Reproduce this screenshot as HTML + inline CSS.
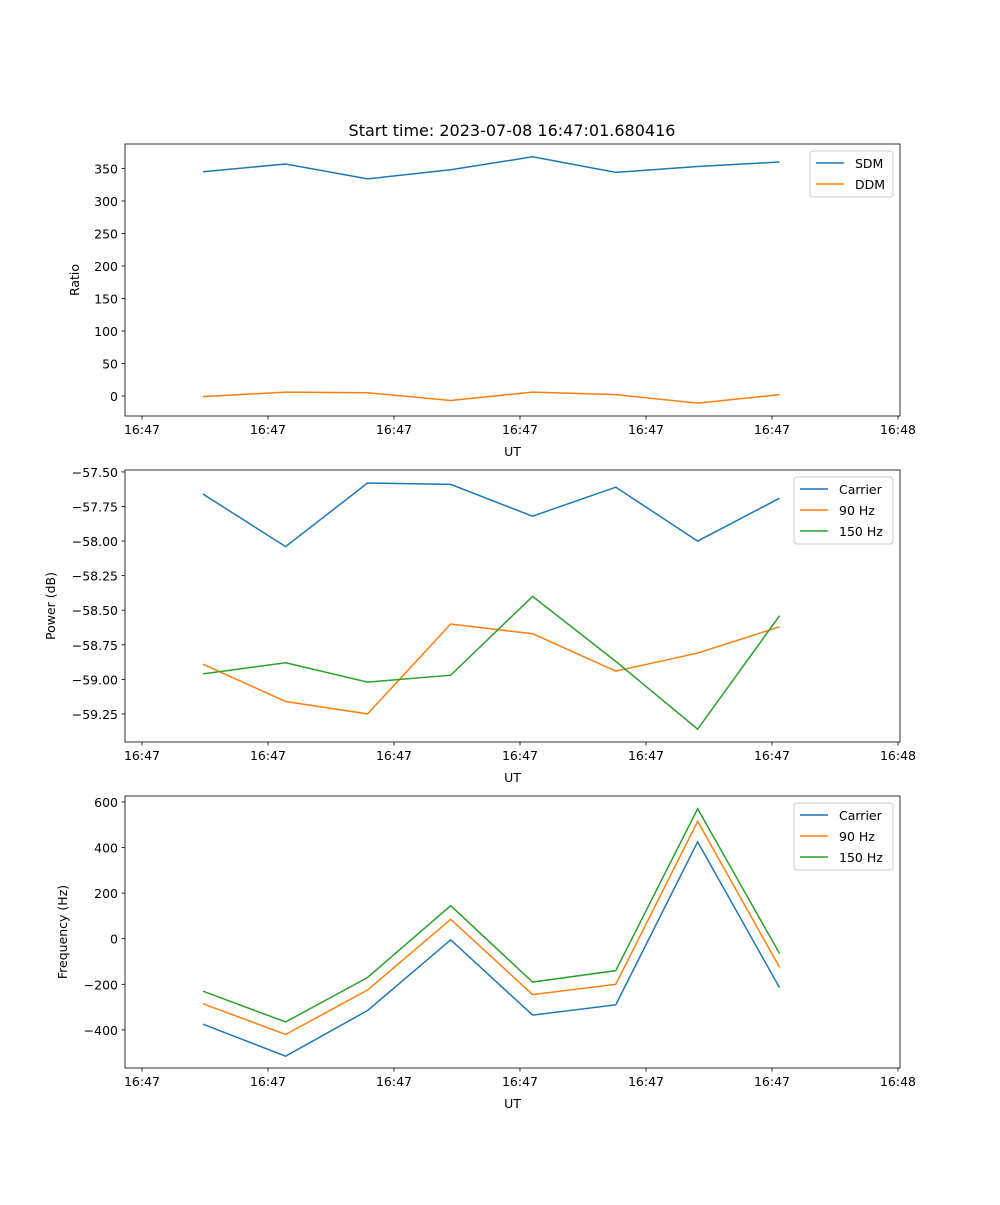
<!DOCTYPE html>
<html><head><meta charset="utf-8"><style>
body{margin:0;background:#fff}
svg text{font-family:"DejaVu Sans","Liberation Sans",sans-serif;fill:#000}
</style></head><body>
<svg id="fig" width="1000" height="1200" xmlns="http://www.w3.org/2000/svg">
<rect width="1000" height="1200" fill="#fff"/>
<text x="512" y="136" font-size="16" text-anchor="middle">Start time: 2023-07-08 16:47:01.680416</text>
</svg>
<script>
const times = [4.84, 11.4, 17.9, 24.5, 31.0, 37.6, 44.1, 50.6];
const xTicks = [0, 10, 20, 30, 40, 50, 60];
const xTickLabels = ["16:47","16:47","16:47","16:47","16:47","16:47","16:48"];
const sdm = [345, 357, 334, 348, 368, 344, 353, 360];
const ddm = [-1, 6, 5, -7, 6, 2, -11, 2];
const ratioTicks = [0, 50, 100, 150, 200, 250, 300, 350];
const powCarrier = [-57.66, -58.04, -57.58, -57.59, -57.82, -57.61, -58.00, -57.69];
const pow90 = [-58.89, -59.16, -59.25, -58.60, -58.67, -58.94, -58.81, -58.62];
const pow150 = [-58.96, -58.88, -59.02, -58.97, -58.40, -58.87, -59.36, -58.54];
const powTicks = [-57.5, -57.75, -58.0, -58.25, -58.5, -58.75, -59.0, -59.25];
const freqCarrier = [-375, -515, -315, -5, -335, -290, 425, -215];
const freq90 = [-285, -420, -225, 85, -245, -200, 515, -125];
const freq150 = [-230, -365, -170, 145, -190, -140, 570, -65];
const freqTicks = [-400, -200, 0, 200, 400, 600];

const NS = "http://www.w3.org/2000/svg";
const svg = document.getElementById('fig');
function mk(tag, attrs, parent){const e=document.createElementNS(NS,tag);for(const k in attrs)e.setAttribute(k,attrs[k]);(parent||svg).appendChild(e);return e;}
const L=125,R=900,xmin=-1.35,xmax=60.16;
const xs=t=>L+(t-xmin)/(xmax-xmin)*(R-L);
const FS=12.5;

function panel(name, top, bottom, ymin, ymax, yTicks, fmt, ylabel, series){
  const g=mk('g',{});
  
  
  const ys=v=>bottom-(v-ymin)/(ymax-ymin)*(bottom-top);
  series.forEach(s=>{
    const p=mk('polyline',{points:s.vals.map((v,i)=>xs(times[i])+','+ys(v)).join(' '),fill:'none',stroke:s.color,'stroke-width':1.5},g);
    
    
  });
  const fr=mk('rect',{x:L,y:top,width:R-L,height:bottom-top,fill:'none',stroke:'#000','stroke-width':0.8},g);
  
  
  xTicks.forEach((t,i)=>{
    const x=xs(t);
    mk('line',{x1:x,x2:x,y1:bottom,y2:bottom+3.5,stroke:'#000','stroke-width':0.8},g);
    const tx=mk('text',{x:x,y:bottom+18,'font-size':FS,'text-anchor':'middle'},g);
    tx.textContent=xTickLabels[i];
    
    
  });
  yTicks.forEach(v=>{
    const y=ys(v);
    mk('line',{x1:L-3.5,x2:L,y1:y,y2:y,stroke:'#000','stroke-width':0.8},g);
    const tx=mk('text',{x:L-7,y:y+5,'font-size':FS,'text-anchor':'end'},g);
    tx.textContent=fmt(v);
    
    
  });
  const xl=mk('text',{x:(L+R)/2,y:bottom+40,'font-size':FS,'text-anchor':'middle'},g);
  xl.textContent='UT';
  
  
  const yl=mk('text',{x:0,y:0,'font-size':FS,'text-anchor':'middle',transform:`translate(${series.ylx},${(top+bottom)/2}) rotate(-90)`},g);
  yl.textContent=ylabel;
  
  
  const lw=series.lw, lx=893-lw, ly=top+7, lh=4+series.length*21;
  const lg=mk('g',{},g);
  
  
  mk('rect',{x:lx,y:ly,width:lw,height:lh,rx:3,fill:'#fff','fill-opacity':0.8,stroke:'#ccc','stroke-width':1},lg);
  series.forEach((s,i)=>{
    const yy=ly+12+i*21;
    mk('line',{x1:lx+6,x2:lx+34,y1:yy,y2:yy,stroke:s.color,'stroke-width':1.5},lg);
    const t=mk('text',{x:lx+45,y:yy+5,'font-size':FS},lg);
    t.textContent=s.label;
    
    
  });
}
const s1=[{key:'sdm',label:'SDM',vals:sdm,color:'#1f77b4'},{key:'ddm',label:'DDM',vals:ddm,color:'#ff7f0e'}];
s1.lw=83; s1.ylx=79;
panel('ratio',144,416,-30.8,387.7,ratioTicks,v=>String(v),'Ratio',s1);
const s2=[{key:'carrier',label:'Carrier',vals:powCarrier,color:'#1f77b4'},{key:'90hz',label:'90 Hz',vals:pow90,color:'#ff7f0e'},{key:'150hz',label:'150 Hz',vals:pow150,color:'#2ca02c'}];
s2.lw=99; s2.ylx=55;
panel('power',470,742,-59.453,-57.486,powTicks,v=>'\u2212'+Math.abs(v).toFixed(2),'Power (dB)',s2);
const s3=[{key:'carrier',label:'Carrier',vals:freqCarrier,color:'#1f77b4'},{key:'90hz',label:'90 Hz',vals:freq90,color:'#ff7f0e'},{key:'150hz',label:'150 Hz',vals:freq150,color:'#2ca02c'}];
s3.lw=99; s3.ylx=67;
panel('frequency',796,1068,-567,626,freqTicks,v=>v<0?'\u2212'+Math.abs(v):String(v),'Frequency (Hz)',s3);
</script>
</body></html>
